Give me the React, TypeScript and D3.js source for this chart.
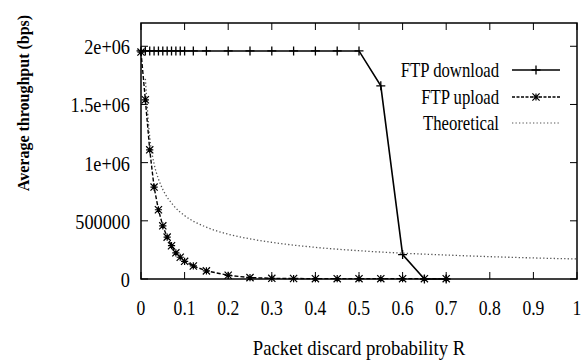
import React from "react";
import * as d3 from "d3";

const xTicks = [0, 0.1, 0.2, 0.3, 0.4, 0.5, 0.6, 0.7, 0.8, 0.9, 1];
const yTicks = [0, 500000, 1000000, 1500000, 2000000];
const yTickLabels = ["0", "500000", "1e+06", "1.5e+06", "2e+06"];

const downloadX = [0, 0.01, 0.02, 0.03, 0.04, 0.05, 0.06, 0.07, 0.08, 0.09, 0.1, 0.12, 0.15, 0.2, 0.25, 0.3, 0.35, 0.4, 0.45, 0.5, 0.55, 0.6, 0.65, 0.7];
const downloadY = [1960000, 1960000, 1960000, 1960000, 1960000, 1960000, 1960000, 1960000, 1960000, 1960000, 1960000, 1960000, 1960000, 1960000, 1960000, 1960000, 1960000, 1960000, 1960000, 1960000, 1660000, 210000, 0, 0];

const uploadX = [0, 0.01, 0.02, 0.03, 0.04, 0.05, 0.06, 0.07, 0.08, 0.09, 0.1, 0.12, 0.15, 0.2, 0.25, 0.3, 0.35, 0.4, 0.45, 0.5, 0.55, 0.6, 0.65, 0.7];
const uploadY = [1950000, 1540000, 1110000, 790000, 595000, 457000, 360000, 286000, 225000, 187000, 152000, 112000, 70000, 32000, 12000, 6000, 4000, 3000, 3000, 3000, 3000, 3000, 3000, 3000];

const theoX = [0.01, 0.02, 0.03, 0.04, 0.05, 0.075, 0.1, 0.15, 0.2, 0.25, 0.3, 0.4, 0.5, 0.6, 0.7, 0.8, 0.9, 1.0];
const theoY = [1720000, 1220000, 990000, 860000, 770000, 630000, 545000, 445000, 385000, 345000, 315000, 272000, 243000, 222000, 206000, 192000, 181000, 172000];

const legendLabels = ["FTP download", "FTP upload", "Theoretical"];

const W = 587, H = 361;
const L = 141, R = 577, T = 23, B = 279;
const FONT = "'Liberation Serif', 'Times New Roman', Times, serif";
const FS = 22;

export default function App() {
  const x = d3.scaleLinear().domain([0, 1]).range([L, R]);
  const y = d3.scaleLinear().domain([0, 2200000]).range([B, T]);
  const line = d3.line<[number, number]>().x(d => x(d[0])).y(d => y(d[1]));
  const smooth = d3.line<[number, number]>().x(d => x(d[0])).y(d => y(d[1])).curve(d3.curveMonotoneX);

  const dl: [number, number][] = downloadX.map((v, i) => [v, downloadY[i]]);
  const ul: [number, number][] = uploadX.map((v, i) => [v, uploadY[i]]);
  const th: [number, number][] = theoX.map((v, i) => [v, theoY[i]]);

  const plus = (cx: number, cy: number, s: number, k: string) => (
    <path key={k} d={`M${cx - s},${cy}H${cx + s}M${cx},${cy - s}V${cy + s}`} stroke="#000" strokeWidth={1.3} fill="none" />
  );
  const star = (cx: number, cy: number, s: number, k: string) => (
    <path key={k} d={`M${cx - s},${cy - s}L${cx + s},${cy + s}M${cx - s},${cy + s}L${cx + s},${cy - s}M${cx - s},${cy}H${cx + s}M${cx},${cy - s}V${cy + s}`} stroke="#000" strokeWidth={1.2} fill="none" />
  );

  const txt = (s: string, tx: number, ty: number, anchor: string, sx: number, k: string) => (
    <text key={k} transform={`translate(${tx},${ty}) scale(${sx},1)`} textAnchor={anchor} fontFamily={FONT} fontSize={FS} fill="#000">{s}</text>
  );

  const legY = [70, 97, 123];
  const legTextX = 499, legL = 512, legR = 560;

  return (
    <svg width={W} height={H} style={{ position: "absolute", left: 0, top: 0, background: "#fff" }}>
      <rect x={0} y={0} width={W} height={H} fill="#fff" />
      {xTicks.map((t, i) => (
        <g key={"xt" + i}>
          <line x1={x(t)} x2={x(t)} y1={B} y2={B - 7} stroke="#000" strokeWidth={1} />
          <line x1={x(t)} x2={x(t)} y1={T} y2={T + 7} stroke="#000" strokeWidth={1} />
          {txt(String(t), x(t), 315, "middle", 0.8, "xl" + i)}
        </g>
      ))}
      {yTicks.map((t, i) => (
        <g key={"yt" + i}>
          <line x1={L} x2={L + 7} y1={y(t)} y2={y(t)} stroke="#000" strokeWidth={1} />
          <line x1={R} x2={R - 7} y1={y(t)} y2={y(t)} stroke="#000" strokeWidth={1} />
          {txt(yTickLabels[i], 130, y(t) + 8, "end", 0.83, "yl" + i)}
        </g>
      ))}
      <path d={smooth(th) || ""} fill="none" stroke="#555" strokeWidth={1.3} strokeDasharray="1.3,2.2" />
      <path d={line(ul) || ""} fill="none" stroke="#000" strokeWidth={1.4} strokeDasharray="4,2" />
      {ul.map((d, i) => star(x(d[0]), y(d[1]), 3.6, "us" + i))}
      <path d={line(dl) || ""} fill="none" stroke="#000" strokeWidth={1.6} />
      {dl.map((d, i) => plus(x(d[0]), y(d[1]), 4.5, "dp" + i))}
      <rect x={L} y={T} width={R - L} height={B - T} fill="none" stroke="#000" strokeWidth={1.5} />
      {legendLabels.map((s, i) => txt(s, legTextX, legY[i] + 7, "end", 0.76, "lg" + i))}
      <line x1={legL} x2={legR} y1={legY[0]} y2={legY[0]} stroke="#000" strokeWidth={1.6} />
      {plus((legL + legR) / 2, legY[0], 4.5, "lp")}
      <line x1={legL} x2={legR} y1={legY[1]} y2={legY[1]} stroke="#000" strokeWidth={1.4} strokeDasharray="3,1.5" />
      {star((legL + legR) / 2, legY[1], 3.6, "ls")}
      <line x1={legL} x2={legR} y1={legY[2]} y2={legY[2]} stroke="#555" strokeWidth={1.2} strokeDasharray="1.3,2.2" />
      {txt("Packet discard probability R", 359, 355, "middle", 0.85, "xt")}
      <text transform="translate(29,103) rotate(-90)" textAnchor="middle" fontFamily={FONT} fontSize={16} fontWeight="bold" fill="#000">Average throughput (bps)</text>
    </svg>
  );
}
